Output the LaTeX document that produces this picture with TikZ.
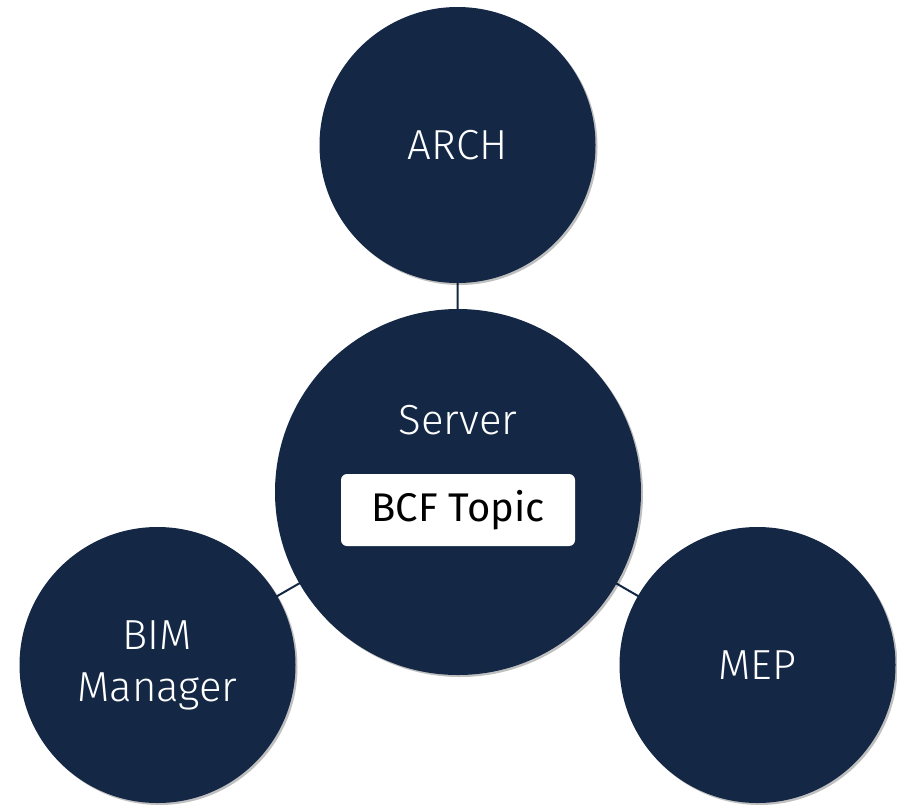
\documentclass[tikz,border=0pt]{standalone}
\usepackage{fontspec}
\setmainfont{Fira Sans Light}
\newfontfamily\regfont{Fira Sans}
\usetikzlibrary{shadows}
\definecolor{navy}{RGB}{20,40,70}
\begin{document}
\begin{tikzpicture}[x=1pt,y=-1pt,
  bubble/.style={circle,fill=navy,draw=none,text=white,font=\fontsize{42}{52}\selectfont,
    align=center,inner sep=0pt,
    drop shadow={shadow xshift=2pt,shadow yshift=-2pt,opacity=0.25,fill=black}},
  link/.style={draw=navy,line width=2pt},
  tagbox/.style={fill=white,rounded corners=6pt,text=black,font=\regfont\fontsize{40}{46}\selectfont,
    minimum width=234pt,minimum height=72pt,inner sep=0pt}]
\useasboundingbox (0,0) rectangle (897,804);
\coordinate (cA) at (457.5,145);
\coordinate (cS) at (458,492);
\coordinate (cB) at (157.5,665);
\coordinate (cM) at (757.5,665);
\draw[link] (cA) -- (cS);
\draw[link] (cB) -- (cS);
\draw[link] (cM) -- (cS);
\node[bubble,minimum size=276pt] (arch) at (cA) {ARCH};
\node[bubble,minimum size=366pt] (server) at (cS) {};
\node[bubble,minimum size=276pt] (bim) at (cB) {\raisebox{-5pt}{BIM}\\\raisebox{-5pt}{Manager}};
\node[bubble,minimum size=276pt] (mep) at (cM) {MEP};
\node[text=white,font=\fontsize{42}{46}\selectfont] (srvlabel) at (458,420) {Server};
\node[tagbox] (bcf) at (458,510) {\raisebox{-2pt}{BCF Topic}};
\end{tikzpicture}
\end{document}
